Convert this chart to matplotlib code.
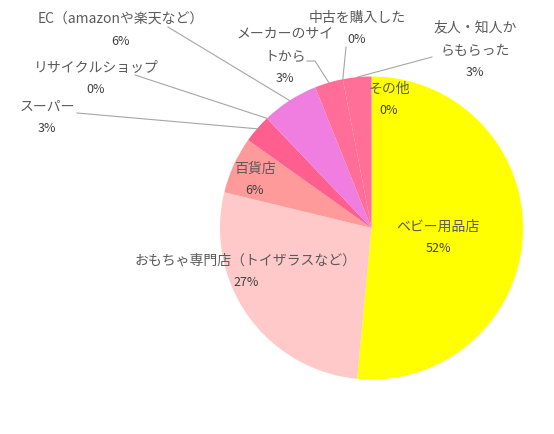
import numpy as np
from matplotlib import pyplot as plt

plt.rcParams['font.family'] = ['Noto Sans CJK JP', 'DejaVu Sans']

# survey answers (counts), clockwise from 12 o'clock
labels = ['ベビー用品店', 'おもちゃ専門店（トイザラスなど）', '百貨店', 'スーパー',
          'リサイクルショップ', 'EC（amazonや楽天など）', 'メーカーのサイ\nトから',
          '中古を購入した', '友人・知人か\nらもらった', 'その他']
counts = [17, 9, 2, 1, 0, 2, 1, 0, 1, 0]
colors = ['#FFFF00', '#FFC9C9', '#FF9A9A', '#FF5F8F', '#FF7FB0', '#F07EE0',
          '#FF6D98', '#FF6D98', '#FF6F98', '#FFFF66']

W, H = 554, 434
CX, CY, R = 371.5, 228, 151.5

# label layout in pixel coords: (x, first line y), leader start points
label_pos = [(438, 227), (246, 261), (255, 169), (47, 107), (96, 68),
             (121, 20), (285, 33), (357, 18), (475, 27), (389, 89)]
leaders = {3: [(77, 113)], 4: [(135, 75)], 5: [(168, 27)],
           6: [(307, 61), (315, 61)], 7: [(346, 47)], 8: [(432, 57)]}


def px(x, y):
    return x, H - y


fig = plt.figure(figsize=(W / 100, H / 100), dpi=100)
ax = fig.add_axes([0, 0, 1, 1])

ax.pie(counts, colors=colors, startangle=90, counterclock=False,
       center=px(CX, CY), radius=R, wedgeprops=dict(linewidth=0), frame=True)
ax.set_xlim(0, W)
ax.set_ylim(0, H)
ax.set_aspect('equal')
ax.axis('off')

total = sum(counts)
edges = np.cumsum([0] + counts) / total * 360

for i, (name, c) in enumerate(zip(labels, counts)):
    lx, ly = label_pos[i]
    lines = name.split('\n')
    for k, line in enumerate(lines):
        ax.text(*px(lx, ly + 24 * k), line, ha='center', va='center',
                fontsize=10, color='#5A5A5A', zorder=4)
    pct = f'{round(c / total * 100)}%'
    ax.text(*px(lx, ly + 24 * (len(lines) - 1) + 21.5), pct, ha='center',
            va='center', fontsize=9, color='#404040', zorder=4)

    if i in leaders:
        mid = np.radians((edges[i] + edges[i + 1]) / 2)
        ex, ey = CX + R * np.sin(mid), CY - R * np.cos(mid)
        pts = leaders[i] + [(ex, ey)]
        xs, ys = zip(*[px(x, y) for x, y in pts])
        ax.plot(xs, ys, color='#A6A6A6', linewidth=0.8, zorder=3)

plt.savefig('out.png', dpi=100)
